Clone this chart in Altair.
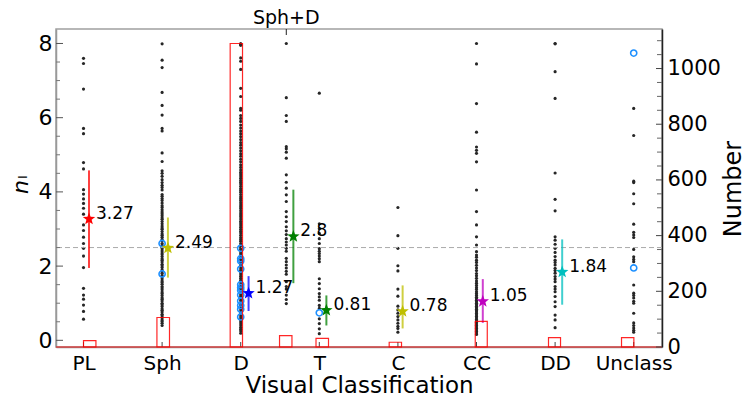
import math
import pandas as pd
import altair as alt

# ---------------- data ----------------
categories = ["PL", "Sph", "D", "T", "C", "CC", "DD", "Unclass"]
cat_pos = [0, 1, 2, 3, 4, 5, 6, 7]
combo_label = "Sph+D"
combo_pos = 2.58

dots_PL = [7.60, 7.46, 6.77, 5.71, 5.57, 4.79, 4.62, 4.06, 3.94, 3.81, 3.69, 3.56,
           3.40, 3.11, 2.96, 2.78, 2.61, 2.48, 2.27, 1.96, 1.40, 1.22, 1.11, 0.95,
           0.78, 0.57]
dots_Sph = [7.99, 7.55, 7.35, 6.68, 6.33, 6.07, 5.71, 5.64, 5.05, 4.82,
            4.57, 4.50, 4.42, 4.33, 4.25, 4.18, 4.12, 4.05, 3.93, 3.88, 3.82, 3.77,
            3.70, 3.63, 3.58, 3.52, 3.46, 3.41, 3.36, 3.30, 3.26, 3.20, 3.14, 3.08,
            3.03, 2.99, 2.93, 2.87, 2.83, 2.78, 2.72, 2.68, 2.61, 2.56, 2.51, 2.47,
            2.41, 2.35, 2.31, 2.26, 2.20, 2.16, 2.11, 2.05, 2.01, 1.96, 1.90, 1.86,
            1.81, 1.75, 1.71, 1.66, 1.60, 1.56, 1.51, 1.45, 1.41, 1.36, 1.30, 1.26,
            1.21, 1.15, 1.11, 1.06, 1.00, 0.96, 0.91, 0.85, 0.81, 0.76, 0.70, 0.66,
            0.61, 0.55, 0.51, 0.46, 0.40]
dots_D = [8.00, 7.98, 7.95, 7.61, 7.52, 7.30, 6.79, 6.57, 6.25, 6.20, 6.06, 5.98,
          5.90, 5.80, 5.72, 5.64, 5.57, 5.49, 5.41, 5.33, 5.26, 5.18, 5.11, 5.03,
          4.96, 4.88, 4.81, 4.73, 4.66, 4.59,
          4.53, 4.48, 4.43, 4.37, 4.31, 4.26, 4.21, 4.15, 4.09, 4.04, 3.99, 3.93,
          3.87, 3.82, 3.77, 3.71, 3.65, 3.60, 3.55, 3.49, 3.43, 3.38, 3.33, 3.27,
          3.21, 3.16, 3.11, 3.05, 2.99, 2.94, 2.89, 2.83, 2.77, 2.72, 2.67, 2.61,
          2.55, 2.50, 2.45, 2.39, 2.33, 2.28, 2.23, 2.17, 2.11, 2.06, 2.01, 1.95,
          1.89, 1.84, 1.79, 1.73, 1.67, 1.62, 1.57, 1.51, 1.45, 1.40, 1.35, 1.29,
          1.23, 1.18, 1.13, 1.07, 1.01, 0.96, 0.91, 0.85, 0.79, 0.74, 0.69, 0.63,
          0.57, 0.52, 0.47, 0.41, 0.35, 0.30, 0.25, 0.19]
dots_SphD = [8.00, 6.54, 6.06, 5.90, 5.22, 5.16, 5.07, 4.91, 4.46, 4.26, 4.10, 3.92,
             3.74, 3.47, 3.33, 3.20, 3.06, 2.95, 2.85, 2.74, 2.65, 2.57, 2.48, 2.40,
             2.21, 2.12, 2.03, 1.95, 1.86, 1.78, 1.58, 1.45, 1.38, 1.22, 1.10, 0.99]
dots_T = [6.66, 3.14, 3.01, 2.88, 2.74, 2.61, 2.47, 2.40, 2.34, 2.27, 2.20, 2.12,
          1.66, 1.53, 1.39, 1.26, 1.17, 1.08, 0.94, 0.86, 0.58, 0.45, 0.31, 0.18]
dots_C = [3.58, 2.82, 2.48, 2.01, 1.87, 1.38, 1.19, 0.92, 0.82, 0.73, 0.64, 0.55,
          0.46, 0.38, 0.32, 0.22]
dots_CC = [8.00, 7.45, 6.38, 5.61, 5.21, 5.12, 5.04, 4.81, 4.05, 3.47, 3.11, 2.79,
           2.57, 2.39, 2.30, 2.24, 2.16, 2.10, 2.02, 1.95, 1.88, 1.80, 1.74, 1.67,
           1.60, 1.54, 1.48, 1.42, 1.37, 1.31, 1.26, 1.21, 1.16, 1.12, 1.08, 1.04,
           1.00, 0.96, 0.92, 0.88, 0.84, 0.80, 0.76, 0.72, 0.68, 0.64, 0.60, 0.56,
           0.52, 0.48, 0.44, 0.40, 0.36, 0.32, 0.28, 0.24, 0.20, 0.16]
dots_DD = [8.00, 7.99, 7.24, 6.52, 4.51, 3.80, 3.49, 2.79, 2.70, 2.59, 2.48, 2.37,
           2.26, 2.16, 2.10, 2.03, 1.94, 1.88, 1.81, 1.72, 1.65, 1.58, 1.45, 1.38,
           1.31, 1.18, 1.04, 0.91, 0.68, 0.55, 0.34]
dots_Unclass = [6.25, 5.52, 4.29, 4.25, 3.95, 3.68, 3.13, 2.91, 2.84, 2.77, 2.45,
                2.25, 2.18, 2.12, 1.49, 1.27, 1.21, 1.14, 1.05, 1.00, 0.73, 0.47,
                0.40, 0.33, 0.27, 0.22]

dot_columns = [(0, dots_PL), (1, dots_Sph), (2, dots_D), (combo_pos, dots_SphD),
               (3, dots_T), (4, dots_C), (5, dots_CC), (6, dots_DD), (7, dots_Unclass)]

# open blue circles
circ_pos = [1, 1, 2, 2, 2, 2, 2, 2, 2, 2, 2, 2, 2, 2, 3, 7, 7]
circ_val = [2.61, 1.79, 2.48, 2.20, 2.14, 1.92, 1.50, 1.42, 1.35, 1.22, 1.06, 0.94,
            0.84, 0.63, 0.74, 7.74, 1.95]

# stars with error bars
star_pos = [0.07, 1.074, 2.10, 2.67, 3.09, 4.06, 5.08, 6.09]
star_val = [3.27, 2.49, 1.27, 2.80, 0.81, 0.78, 1.05, 1.84]
star_lo = [1.95, 1.69, 0.79, 1.54, 0.40, 0.32, 0.47, 0.96]
star_hi = [4.58, 3.31, 1.73, 4.06, 1.21, 1.48, 1.65, 2.72]
star_text = ["3.27", "2.49", "1.27", "2.8", "0.81", "0.78", "1.05", "1.84"]
star_color = ["#ff0000", "#bfbf00", "#0000ff", "#008000", "#008000", "#bfbf00",
              "#bf00bf", "#00bfbf"]

ref_level = 2.5

# histogram (right axis)
bin_lo = [0.0, 0.934, 1.866, 2.494, 2.958, 3.889, 4.984, 5.916, 6.845]
bin_hi = [0.158, 1.094, 2.023, 2.652, 3.117, 4.046, 5.137, 6.069, 7.002]
bin_count = [23, 106, 1090, 41, 31, 17, 92, 34, 34]

left_major = [0, 2, 4, 6, 8]
left_minor = [0.5, 1, 1.5, 2.5, 3, 3.5, 4.5, 5, 5.5, 6.5, 7, 7.5]
right_major = [0, 200, 400, 600, 800, 1000]
right_minor = [50, 100, 150, 250, 300, 350, 450, 500, 550, 650, 700, 750, 850, 900,
               950, 1050, 1100]
right_title = "Number"

# ---------------- frames ----------------
dots_df = pd.DataFrame([{"pos": p, "val": v} for p, vals in dot_columns for v in vals])
circ_df = pd.DataFrame({"pos": circ_pos, "val": circ_val})
star_df = pd.DataFrame({"pos": star_pos, "val": star_val, "lo": star_lo, "hi": star_hi,
                        "txt": star_text, "k": [str(i) for i in range(len(star_pos))]})
bars_df = pd.DataFrame({"pos": bin_lo, "hi": bin_hi, "n": bin_count})

W, H = 606, 318
FONT = "DejaVu Sans"
XDOM = [-0.35, 7.36]
YDOM = [-0.18, 8.39]
RDOM = [0, 1142]
col_scale = alt.Scale(domain=[str(i) for i in range(len(star_pos))], range=star_color)

label_expr = "[" + ",".join("'%s'" % c for c in categories) + "][datum.value]"

X_AXIS = alt.Axis(
    values=cat_pos, labelExpr=label_expr, title="Visual Classification",
    ticks=False, labelFontSize=20, labelPadding=6, titleFontSize=23,
    titlePadding=1, domainColor="#999999", grid=False, labelFlush=False,
    orient="bottom")


def xq(f="pos"):
    # every layer carries the identical axis definition so the shared axis merges
    return alt.X(f + ":Q", scale=alt.Scale(domain=XDOM, nice=False, zero=False),
                 axis=X_AXIS)


def yq(f="val"):
    return alt.Y(f + ":Q", scale=alt.Scale(domain=YDOM, nice=False, zero=False), axis=None)


def rq(f="n"):
    return alt.Y(f + ":Q", scale=alt.Scale(domain=RDOM, nice=False, zero=False), axis=None)


dots = alt.Chart(dots_df).mark_circle(size=10, color="#262626", opacity=1).encode(
    x=xq(),
    y=alt.Y("val:Q", scale=alt.Scale(domain=YDOM, nice=False, zero=False),
            axis=alt.Axis(values=left_major, orient="left", ticks=False,
                          labelFontSize=22, labelPadding=4, title=None,
                          domainColor="#999999", grid=False, labelFlush=False)))

circles = alt.Chart(circ_df).mark_point(
    size=38, filled=False, color="#1e90ff", strokeWidth=1.6, opacity=1
).encode(x=xq(), y=yq())

dashed = alt.Chart(pd.DataFrame({"val": [ref_level]})).mark_rule(
    color="#aaaaaa", strokeDash=[5, 3], strokeWidth=1).encode(y=yq())

errbars = alt.Chart(star_df).mark_rule(strokeWidth=2, opacity=0.75).encode(
    x=xq(), y=yq("lo"), y2="hi:Q",
    color=alt.Color("k:N", scale=col_scale, legend=None))

pts = []
for i in range(10):
    r = 1.0 if i % 2 == 0 else 0.42
    a = -math.pi / 2 + i * math.pi / 5
    pts.append("%.3f,%.3f" % (r * math.cos(a), r * math.sin(a)))
STAR = "M" + " L".join(pts) + " Z"

stars = alt.Chart(star_df).mark_point(
    shape=STAR, size=170, filled=True, opacity=1).encode(
    x=xq(), y=yq(), color=alt.Color("k:N", scale=col_scale, legend=None))

labels = alt.Chart(star_df).mark_text(
    align="left", baseline="middle", dx=7, dy=-5, fontSize=17, font=FONT,
    color="black").encode(x=xq(), y=yq(), text="txt:N")

lt_major = alt.Chart(pd.DataFrame({"val": left_major})).mark_rule(
    color="#555555").encode(y=yq(), x=alt.value(0), x2=alt.value(7))
lt_minor = alt.Chart(pd.DataFrame({"val": left_minor})).mark_rule(
    color="#777777").encode(y=yq(), x=alt.value(0), x2=alt.value(4))

bt = alt.Chart(pd.DataFrame({"pos": cat_pos})).mark_rule(color="#444444").encode(
    x=xq(), y=alt.value(H), y2=alt.value(H - 5))

combo_df = pd.DataFrame({"pos": [combo_pos], "t": [combo_label]})
tt = alt.Chart(combo_df).mark_rule(color="#222222").encode(
    x=xq(), y=alt.value(0), y2=alt.value(6))
ttext = alt.Chart(combo_df).mark_text(
    fontSize=19, font=FONT, baseline="middle", align="center", color="black").encode(
    x=xq(), y=alt.value(-11), text="t:N")

ytitle_n = alt.Chart(pd.DataFrame({"t": ["n"]})).mark_text(
    fontSize=22, font=FONT, fontStyle="italic", angle=270, align="center",
    baseline="middle", color="black").encode(
    x=alt.value(-35), y=alt.value(158), text="t:N")
ytitle_i = alt.Chart(pd.DataFrame({"t": ["I"]})).mark_text(
    fontSize=13, font=FONT, angle=270, align="center",
    baseline="middle", color="black").encode(
    x=alt.value(-33), y=alt.value(148), text="t:N")

rtitle = alt.Chart(pd.DataFrame({"t": [right_title]})).mark_text(
    fontSize=24, font=FONT, angle=270, align="center",
    baseline="alphabetic", color="black").encode(
    x=alt.value(W + 79), y=alt.value(160), text="t:N")

bars = alt.Chart(bars_df).mark_rect(
    fill="transparent", stroke="#ff0000", strokeWidth=1.2, strokeOpacity=0.85
).encode(
    x=xq("pos"), x2="hi:Q",
    y=alt.Y("n:Q", scale=alt.Scale(domain=RDOM, nice=False, zero=False),
            axis=alt.Axis(
                values=right_major, orient="right", ticks=False, labelFontSize=21,
                labelPadding=5, format="d", title=None, domainColor="#222222",
                grid=False, labelFlush=False)),
    y2=alt.datum(0))

base_line = alt.Chart(pd.DataFrame({"n": [0]})).mark_rule(
    color="#ff0000", strokeWidth=1.2, opacity=0.85).encode(y=rq())

rt_major = alt.Chart(pd.DataFrame({"n": right_major})).mark_rule(
    color="#444444").encode(y=rq(), x=alt.value(W), x2=alt.value(W - 6))
rt_minor = alt.Chart(pd.DataFrame({"n": right_minor})).mark_rule(
    color="#666666").encode(y=rq(), x=alt.value(W), x2=alt.value(W - 5))

chart = alt.layer(
    dots, dashed, circles, errbars, stars, labels, lt_major, lt_minor,
    bt, tt, ttext, ytitle_n, ytitle_i, rtitle, bars, base_line, rt_major, rt_minor
).resolve_scale(y="independent").properties(
    width=W, height=H,
    padding={"left": 48, "top": 21, "right": 82, "bottom": 48},
    autosize=alt.AutoSizeParams(type="none"),
).configure(font=FONT).configure_axis(
    labelColor="black", titleColor="black", titleFontWeight="normal",
    labelFont=FONT, titleFont=FONT, domainWidth=1.5
).configure_view(stroke="#a0a0a0", strokeWidth=1.5)

chart.save("out.html", embed_options={"renderer": "svg", "actions": False})
